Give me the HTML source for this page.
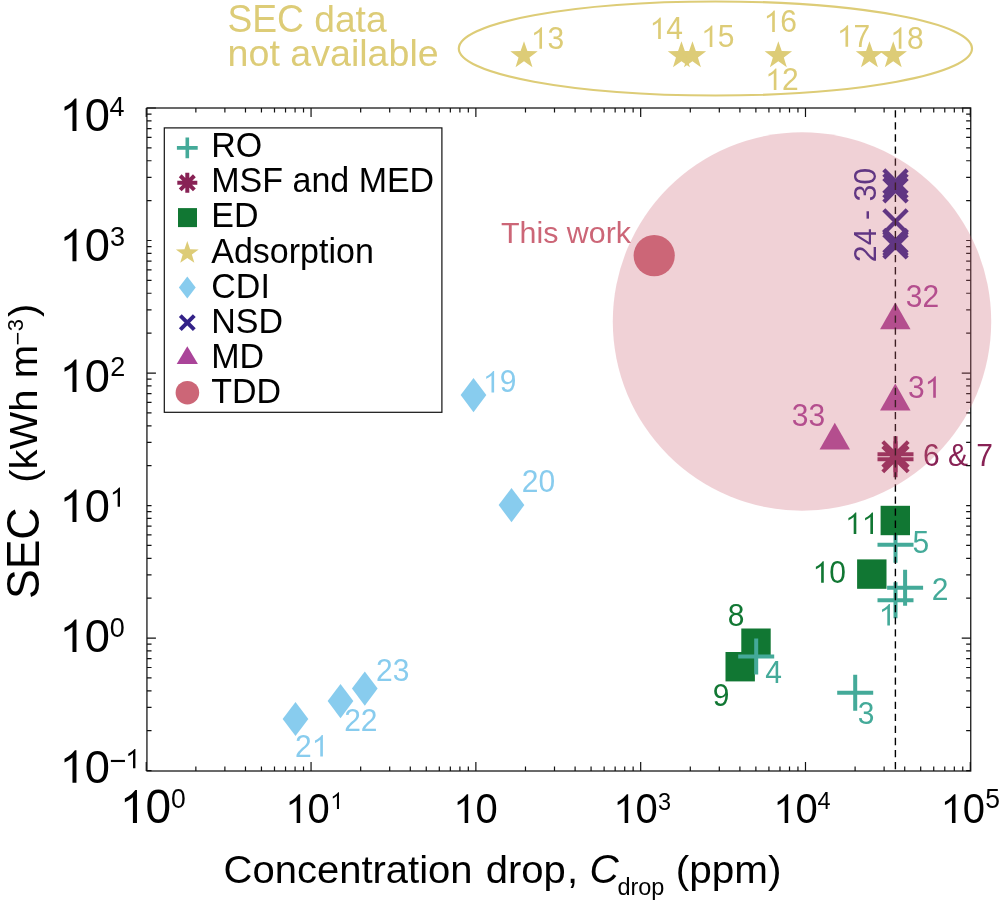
<!DOCTYPE html>
<html><head><meta charset="utf-8"><style>html,body{margin:0;padding:0;background:#fff;}svg{display:block;will-change:transform;}text{font-family:"Liberation Sans",sans-serif;font-kerning:none;}</style></head>
<body><svg width="1000" height="904" viewBox="0 0 1000 904">
<rect width="1000" height="904" fill="#fff"/>
<ellipse cx="715.4" cy="48.5" rx="256.6" ry="47" fill="none" stroke="#DDCC77" stroke-width="2.2"/>
<text transform="translate(227.40,31.70) scale(1,1.04)" font-size="37.2" fill="#DDCC77">SEC</text>
<text transform="translate(314.22,31.70) scale(1,0.97)" font-size="37.2" fill="#DDCC77">data</text>
<text transform="translate(227.60,66.30) scale(1,0.97)" font-size="37.6" fill="#DDCC77">not available</text>
<polygon points="524.00,41.20 527.39,50.94 537.70,51.15 529.48,57.38 532.46,67.25 524.00,61.36 515.54,67.25 518.52,57.38 510.30,51.15 520.61,50.94" fill="#DDCC77"/>
<polygon points="681.45,41.20 684.84,50.94 695.15,51.15 686.93,57.38 689.91,67.25 681.45,61.36 672.99,67.25 675.97,57.38 667.75,51.15 678.06,50.94" fill="#DDCC77"/>
<polygon points="692.45,41.20 695.84,50.94 706.15,51.15 697.93,57.38 700.91,67.25 692.45,61.36 683.99,67.25 686.97,57.38 678.75,51.15 689.06,50.94" fill="#DDCC77"/>
<polygon points="778.35,41.20 781.74,50.94 792.05,51.15 783.83,57.38 786.81,67.25 778.35,61.36 769.89,67.25 772.87,57.38 764.65,51.15 774.96,50.94" fill="#DDCC77"/>
<polygon points="869.45,41.20 872.84,50.94 883.15,51.15 874.93,57.38 877.91,67.25 869.45,61.36 860.99,67.25 863.97,57.38 855.75,51.15 866.06,50.94" fill="#DDCC77"/>
<polygon points="893.25,41.20 896.64,50.94 906.95,51.15 898.73,57.38 901.71,67.25 893.25,61.36 884.79,67.25 887.77,57.38 879.55,51.15 889.86,50.94" fill="#DDCC77"/>
<text transform="translate(530.85,48.80) scale(1,1.04)" font-size="30" fill="#DDCC77"> 3</text>
<path transform="translate(530.85,48.80) scale(0.01465)" d="M763,0L583,0L583,-1147C535,-1101 472,-1055 394,-1009C316,-963 245,-929 223,-917L223,-1091C335,-1144 433,-1207 516,-1280C599,-1353 658,-1424 692,-1466L763,-1466Z" fill="#DDCC77"/>
<text transform="translate(649.61,38.95) scale(1,1.04)" font-size="30" fill="#DDCC77"> 4</text>
<path transform="translate(649.61,38.95) scale(0.01465)" d="M763,0L583,0L583,-1147C535,-1101 472,-1055 394,-1009C316,-963 245,-929 223,-917L223,-1091C335,-1144 433,-1207 516,-1280C599,-1353 658,-1424 692,-1466L763,-1466Z" fill="#DDCC77"/>
<text transform="translate(701.19,46.90) scale(1,1.04)" font-size="30" fill="#DDCC77"> 5</text>
<path transform="translate(701.19,46.90) scale(0.01465)" d="M763,0L583,0L583,-1147C535,-1101 472,-1055 394,-1009C316,-963 245,-929 223,-917L223,-1091C335,-1144 433,-1207 516,-1280C599,-1353 658,-1424 692,-1466L763,-1466Z" fill="#DDCC77"/>
<text transform="translate(763.65,32.00) scale(1,1.04)" font-size="30" fill="#DDCC77"> 6</text>
<path transform="translate(763.65,32.00) scale(0.01465)" d="M763,0L583,0L583,-1147C535,-1101 472,-1055 394,-1009C316,-963 245,-929 223,-917L223,-1091C335,-1144 433,-1207 516,-1280C599,-1353 658,-1424 692,-1466L763,-1466Z" fill="#DDCC77"/>
<text transform="translate(765.24,90.00) scale(1,1.04)" font-size="30" fill="#DDCC77"> 2</text>
<path transform="translate(765.24,90.00) scale(0.01465)" d="M763,0L583,0L583,-1147C535,-1101 472,-1055 394,-1009C316,-963 245,-929 223,-917L223,-1091C335,-1144 433,-1207 516,-1280C599,-1353 658,-1424 692,-1466L763,-1466Z" fill="#DDCC77"/>
<text transform="translate(836.94,46.70) scale(1,1.04)" font-size="30" fill="#DDCC77"> 7</text>
<path transform="translate(836.94,46.70) scale(0.01465)" d="M763,0L583,0L583,-1147C535,-1101 472,-1055 394,-1009C316,-963 245,-929 223,-917L223,-1091C335,-1144 433,-1207 516,-1280C599,-1353 658,-1424 692,-1466L763,-1466Z" fill="#DDCC77"/>
<text transform="translate(890.23,48.70) scale(1,1.04)" font-size="30" fill="#DDCC77"> 8</text>
<path transform="translate(890.23,48.70) scale(0.01465)" d="M763,0L583,0L583,-1147C535,-1101 472,-1055 394,-1009C316,-963 245,-929 223,-917L223,-1091C335,-1144 433,-1207 516,-1280C599,-1353 658,-1424 692,-1466L763,-1466Z" fill="#DDCC77"/>
<polygon points="473.5,378.05 486.35,395.1 473.5,412.15 460.65,395.1" fill="#88CCEE"/>
<polygon points="511.5,488.05 524.35,505.1 511.5,522.15 498.65,505.1" fill="#88CCEE"/>
<polygon points="295.5,701.95 308.35,719.0 295.5,736.05 282.65,719.0" fill="#88CCEE"/>
<polygon points="340.5,684.05 353.35,701.1 340.5,718.15 327.65,701.1" fill="#88CCEE"/>
<polygon points="364.8,671.55 377.65,688.6 364.8,705.65 351.95,688.6" fill="#88CCEE"/>
<text transform="translate(482.95,392.40) scale(1,1.04)" font-size="30" fill="#88CCEE"> 9</text>
<path transform="translate(482.95,392.40) scale(0.01465)" d="M763,0L583,0L583,-1147C535,-1101 472,-1055 394,-1009C316,-963 245,-929 223,-917L223,-1091C335,-1144 433,-1207 516,-1280C599,-1353 658,-1424 692,-1466L763,-1466Z" fill="#88CCEE"/>
<text transform="translate(521.80,492.30) scale(1,1.04)" font-size="30" fill="#88CCEE">20</text>
<text transform="translate(295.04,756.50) scale(1,1.04)" font-size="30" fill="#88CCEE">2 </text>
<path transform="translate(311.72,756.50) scale(0.01465)" d="M763,0L583,0L583,-1147C535,-1101 472,-1055 394,-1009C316,-963 245,-929 223,-917L223,-1091C335,-1144 433,-1207 516,-1280C599,-1353 658,-1424 692,-1466L763,-1466Z" fill="#88CCEE"/>
<text transform="translate(344.14,730.90) scale(1,1.04)" font-size="30" fill="#88CCEE">22</text>
<text transform="translate(376.05,681.00) scale(1,1.04)" font-size="30" fill="#88CCEE">23</text>
<rect x="741.30" y="628.50" width="29.4" height="29.4" fill="#117733"/>
<rect x="725.50" y="652.00" width="29.4" height="29.4" fill="#117733"/>
<path d="M738.20,656.4H774.20M756.2,638.40V674.40" stroke="#44AA99" stroke-width="4" fill="none"/>
<path d="M837.20,692.8H873.20M855.2,674.80V710.80" stroke="#44AA99" stroke-width="4" fill="none"/>
<path d="M877.50,544.8H913.50M895.5,526.80V562.80" stroke="#44AA99" stroke-width="4" fill="none"/>
<path d="M887.10,587.7H923.10M905.1,569.70V605.70" stroke="#44AA99" stroke-width="4" fill="none"/>
<path d="M877.50,600.3H913.50M895.5,582.30V618.30" stroke="#44AA99" stroke-width="4" fill="none"/>
<rect x="880.60" y="505.80" width="29.4" height="29.4" fill="#117733"/>
<rect x="857.10" y="559.40" width="29.4" height="29.4" fill="#117733"/>
<text transform="translate(727.82,625.70) scale(1,1.04)" font-size="30" fill="#117733">8</text>
<text transform="translate(712.84,706.10) scale(1,1.04)" font-size="30" fill="#117733">9</text>
<text transform="translate(812.60,582.70) scale(1,1.04)" font-size="30" fill="#117733"> 0</text>
<path transform="translate(812.60,582.70) scale(0.01465)" d="M763,0L583,0L583,-1147C535,-1101 472,-1055 394,-1009C316,-963 245,-929 223,-917L223,-1091C335,-1144 433,-1207 516,-1280C599,-1353 658,-1424 692,-1466L763,-1466Z" fill="#117733"/>
<text transform="translate(845.14,533.90) scale(1,1.04)" font-size="30" fill="#117733">  </text>
<path transform="translate(845.14,533.90) scale(0.01465)" d="M763,0L583,0L583,-1147C535,-1101 472,-1055 394,-1009C316,-963 245,-929 223,-917L223,-1091C335,-1144 433,-1207 516,-1280C599,-1353 658,-1424 692,-1466L763,-1466Z" fill="#117733"/>
<path transform="translate(861.82,533.90) scale(0.01465)" d="M763,0L583,0L583,-1147C535,-1101 472,-1055 394,-1009C316,-963 245,-929 223,-917L223,-1091C335,-1144 433,-1207 516,-1280C599,-1353 658,-1424 692,-1466L763,-1466Z" fill="#117733"/>
<text transform="translate(765.29,683.35) scale(1,1.04)" font-size="30" fill="#44AA99">4</text>
<text transform="translate(857.78,723.60) scale(1,1.04)" font-size="30" fill="#44AA99">3</text>
<text transform="translate(912.58,553.30) scale(1,1.04)" font-size="30" fill="#44AA99">5</text>
<text transform="translate(931.77,599.95) scale(1,1.04)" font-size="30" fill="#44AA99">2</text>
<text transform="translate(878.77,625.60) scale(1,1.04)" font-size="30" fill="#44AA99"> </text>
<path transform="translate(878.77,625.60) scale(0.01465)" d="M763,0L583,0L583,-1147C535,-1101 472,-1055 394,-1009C316,-963 245,-929 223,-917L223,-1091C335,-1144 433,-1207 516,-1280C599,-1353 658,-1424 692,-1466L763,-1466Z" fill="#44AA99"/>
<polygon points="895.3,302.4 910.55,329.20 880.05,329.20" fill="#AA4499"/>
<polygon points="895.3,383.6 910.55,410.40 880.05,410.40" fill="#AA4499"/>
<polygon points="834.8,422.7 850.05,449.50 819.55,449.50" fill="#AA4499"/>
<text transform="translate(905.74,307.10) scale(1,1.04)" font-size="30" fill="#AA4499">32</text>
<text transform="translate(907.99,397.80) scale(1,1.04)" font-size="30" fill="#AA4499">3 </text>
<path transform="translate(924.67,397.80) scale(0.01465)" d="M763,0L583,0L583,-1147C535,-1101 472,-1055 394,-1009C316,-963 245,-929 223,-917L223,-1091C335,-1144 433,-1207 516,-1280C599,-1353 658,-1424 692,-1466L763,-1466Z" fill="#AA4499"/>
<text transform="translate(791.85,426.10) scale(1,1.04)" font-size="30" fill="#AA4499">33</text>
<path d="M877.50,454.3H913.50M895.5,436.30V472.30M882.77,441.57L908.23,467.03M882.77,467.03L908.23,441.57" stroke="#882255" stroke-width="4" fill="none"/>
<path d="M877.50,459.2H913.50M895.5,441.20V477.20M882.77,446.47L908.23,471.93M882.77,471.93L908.23,446.47" stroke="#882255" stroke-width="4" fill="none"/>
<text transform="translate(923.00,465.80) scale(1,1.04)" font-size="30" fill="#882255">6 &amp; 7</text>
<path d="M883.80,169.80L907.20,193.20M883.80,193.20L907.20,169.80" stroke="#332288" stroke-width="4.3" fill="none"/>
<path d="M883.80,174.30L907.20,197.70M883.80,197.70L907.20,174.30" stroke="#332288" stroke-width="4.3" fill="none"/>
<path d="M883.80,178.50L907.20,201.90M883.80,201.90L907.20,178.50" stroke="#332288" stroke-width="4.3" fill="none"/>
<path d="M883.80,209.80L907.20,233.20M883.80,233.20L907.20,209.80" stroke="#332288" stroke-width="4.3" fill="none"/>
<path d="M883.80,229.30L907.20,252.70M883.80,252.70L907.20,229.30" stroke="#332288" stroke-width="4.3" fill="none"/>
<path d="M883.80,232.00L907.20,255.40M883.80,255.40L907.20,232.00" stroke="#332288" stroke-width="4.3" fill="none"/>
<path d="M883.80,234.70L907.20,258.10M883.80,258.10L907.20,234.70" stroke="#332288" stroke-width="4.3" fill="none"/>
<text transform="translate(876,215.0) rotate(-90) scale(1,1.04)" font-size="30.3" fill="#332288" text-anchor="middle">24 - 30</text>
<circle cx="654.2" cy="255.6" r="20.6" fill="#CC6677"/>
<text transform="translate(501.00,243.10) scale(1,1.0)" font-size="30.4" fill="#CC6677">This work</text>
<line x1="895.4" y1="110.2" x2="895.4" y2="770" stroke="#000" stroke-width="1.4" stroke-dasharray="7.3 4.77"/>
<path d="M195.86,771.0v-4.6M195.86,108.0v4.6M224.88,771.0v-4.6M224.88,108.0v4.6M245.48,771.0v-4.6M245.48,108.0v4.6M261.45,771.0v-4.6M261.45,108.0v4.6M274.50,771.0v-4.6M274.50,108.0v4.6M285.53,771.0v-4.6M285.53,108.0v4.6M295.09,771.0v-4.6M295.09,108.0v4.6M303.52,771.0v-4.6M303.52,108.0v4.6M360.67,771.0v-4.6M360.67,108.0v4.6M389.69,771.0v-4.6M389.69,108.0v4.6M410.29,771.0v-4.6M410.29,108.0v4.6M426.26,771.0v-4.6M426.26,108.0v4.6M439.31,771.0v-4.6M439.31,108.0v4.6M450.34,771.0v-4.6M450.34,108.0v4.6M459.90,771.0v-4.6M459.90,108.0v4.6M468.33,771.0v-4.6M468.33,108.0v4.6M525.48,771.0v-4.6M525.48,108.0v4.6M554.50,771.0v-4.6M554.50,108.0v4.6M575.10,771.0v-4.6M575.10,108.0v4.6M591.07,771.0v-4.6M591.07,108.0v4.6M604.12,771.0v-4.6M604.12,108.0v4.6M615.15,771.0v-4.6M615.15,108.0v4.6M624.71,771.0v-4.6M624.71,108.0v4.6M633.14,771.0v-4.6M633.14,108.0v4.6M690.29,771.0v-4.6M690.29,108.0v4.6M719.31,771.0v-4.6M719.31,108.0v4.6M739.91,771.0v-4.6M739.91,108.0v4.6M755.88,771.0v-4.6M755.88,108.0v4.6M768.93,771.0v-4.6M768.93,108.0v4.6M779.96,771.0v-4.6M779.96,108.0v4.6M789.52,771.0v-4.6M789.52,108.0v4.6M797.95,771.0v-4.6M797.95,108.0v4.6M855.10,771.0v-4.6M855.10,108.0v4.6M884.12,771.0v-4.6M884.12,108.0v4.6M904.72,771.0v-4.6M904.72,108.0v4.6M920.69,771.0v-4.6M920.69,108.0v4.6M933.74,771.0v-4.6M933.74,108.0v4.6M944.77,771.0v-4.6M944.77,108.0v4.6M954.33,771.0v-4.6M954.33,108.0v4.6M962.76,771.0v-4.6M962.76,108.0v4.6M146.25,771.0v-9M146.25,108.0v9M311.06,771.0v-9M311.06,108.0v9M475.87,771.0v-9M475.87,108.0v9M640.68,771.0v-9M640.68,108.0v9M805.49,771.0v-9M805.49,108.0v9M970.30,771.0v-9M970.30,108.0v9M146.94,730.71h4.6M970.75,730.71h-4.6M146.94,707.37h4.6M970.75,707.37h-4.6M146.94,690.82h4.6M970.75,690.82h-4.6M146.94,677.97h4.6M970.75,677.97h-4.6M146.94,667.48h4.6M970.75,667.48h-4.6M146.94,658.61h4.6M970.75,658.61h-4.6M146.94,650.92h4.6M970.75,650.92h-4.6M146.94,644.14h4.6M970.75,644.14h-4.6M146.94,598.19h4.6M970.75,598.19h-4.6M146.94,574.85h4.6M970.75,574.85h-4.6M146.94,558.30h4.6M970.75,558.30h-4.6M146.94,545.45h4.6M970.75,545.45h-4.6M146.94,534.96h4.6M970.75,534.96h-4.6M146.94,526.09h4.6M970.75,526.09h-4.6M146.94,518.40h4.6M970.75,518.40h-4.6M146.94,511.62h4.6M970.75,511.62h-4.6M146.94,465.67h4.6M970.75,465.67h-4.6M146.94,442.33h4.6M970.75,442.33h-4.6M146.94,425.78h4.6M970.75,425.78h-4.6M146.94,412.93h4.6M970.75,412.93h-4.6M146.94,402.44h4.6M970.75,402.44h-4.6M146.94,393.57h4.6M970.75,393.57h-4.6M146.94,385.88h4.6M970.75,385.88h-4.6M146.94,379.10h4.6M970.75,379.10h-4.6M146.94,333.15h4.6M970.75,333.15h-4.6M146.94,309.81h4.6M970.75,309.81h-4.6M146.94,293.26h4.6M970.75,293.26h-4.6M146.94,280.41h4.6M970.75,280.41h-4.6M146.94,269.92h4.6M970.75,269.92h-4.6M146.94,261.05h4.6M970.75,261.05h-4.6M146.94,253.36h4.6M970.75,253.36h-4.6M146.94,246.58h4.6M970.75,246.58h-4.6M146.94,200.63h4.6M970.75,200.63h-4.6M146.94,177.29h4.6M970.75,177.29h-4.6M146.94,160.74h4.6M970.75,160.74h-4.6M146.94,147.89h4.6M970.75,147.89h-4.6M146.94,137.40h4.6M970.75,137.40h-4.6M146.94,128.53h4.6M970.75,128.53h-4.6M146.94,120.84h4.6M970.75,120.84h-4.6M146.94,114.06h4.6M970.75,114.06h-4.6M146.94,770.60h4.6M970.75,770.60h-4.6M146.94,638.08h9M970.75,638.08h-9M146.94,505.56h4.6M970.75,505.56h-4.6M146.94,373.04h9M970.75,373.04h-9M146.94,240.52h4.6M970.75,240.52h-4.6M146.94,108.00h9M970.75,108.00h-9" stroke="#111" stroke-width="1.2" fill="none"/>
<rect x="146.94" y="108.0" width="823.81" height="663.00" fill="none" stroke="#111" stroke-width="1.25"/>
<circle cx="802" cy="321.5" r="189.2" fill="#CC6677" fill-opacity="0.3"/>
<rect x="164.3" y="127.9" width="277.6" height="284.4" fill="none" stroke="#111" stroke-width="1.2"/>
<path d="M176.90,147.9H197.70M187.3,137.50V158.30" stroke="#44AA99" stroke-width="3.6" fill="none"/>
<path d="M177.30,182.8H197.30M187.3,172.80V192.80M180.23,175.73L194.37,189.87M180.23,189.87L194.37,175.73" stroke="#882255" stroke-width="4" fill="none"/>
<rect x="178.00" y="208.10" width="19" height="19" fill="#117733"/>
<polygon points="187.30,241.10 190.12,249.22 198.71,249.39 191.87,254.58 194.35,262.81 187.30,257.90 180.25,262.81 182.73,254.58 175.89,249.39 184.48,249.22" fill="#DDCC77"/>
<polygon points="187.3,276.60 195.70,287.6 187.3,298.60 178.90,287.6" fill="#88CCEE"/>
<path d="M180.30,315.60L194.30,329.60M180.30,329.60L194.30,315.60" stroke="#332288" stroke-width="4" fill="none"/>
<polygon points="187.3,346.2 197.90,363.90 176.70,363.90" fill="#AA4499"/>
<circle cx="187.4" cy="392.7" r="11.8" fill="#CC6677"/>
<text transform="translate(211.30,157.00) scale(1,1.04)" font-size="34" fill="#000">RO</text>
<text transform="translate(211.30,192.20) scale(1,1.04)" font-size="34" fill="#000">MSF and MED</text>
<text transform="translate(211.30,227.40) scale(1,1.04)" font-size="34" fill="#000">ED</text>
<text transform="translate(211.30,262.60) scale(1,1.04)" font-size="34" fill="#000">Adsorption</text>
<text transform="translate(211.30,297.80) scale(1,1.04)" font-size="34" fill="#000">CDI</text>
<text transform="translate(211.30,333.00) scale(1,1.04)" font-size="34" fill="#000">NSD</text>
<text transform="translate(211.30,368.20) scale(1,1.04)" font-size="34" fill="#000">MD</text>
<text transform="translate(211.30,403.40) scale(1,1.04)" font-size="34" fill="#000">TDD</text>
<text transform="translate(59.58,131.00) scale(1,1.04)" font-size="45.3" fill="#000"> 0</text>
<path transform="translate(59.58,131.00) scale(0.02212)" d="M763,0L583,0L583,-1147C535,-1101 472,-1055 394,-1009C316,-963 245,-929 223,-917L223,-1091C335,-1144 433,-1207 516,-1280C599,-1353 658,-1424 692,-1466L763,-1466Z" fill="#000"/>
<text transform="translate(109.57,116.20) scale(1,1.04)" font-size="27" fill="#000">4</text>
<text transform="translate(59.58,261.20) scale(1,1.04)" font-size="45.3" fill="#000"> 0</text>
<path transform="translate(59.58,261.20) scale(0.02212)" d="M763,0L583,0L583,-1147C535,-1101 472,-1055 394,-1009C316,-963 245,-929 223,-917L223,-1091C335,-1144 433,-1207 516,-1280C599,-1353 658,-1424 692,-1466L763,-1466Z" fill="#000"/>
<text transform="translate(109.97,245.80) scale(1,1.04)" font-size="27" fill="#000">3</text>
<text transform="translate(59.58,392.00) scale(1,1.04)" font-size="45.3" fill="#000"> 0</text>
<path transform="translate(59.58,392.00) scale(0.02212)" d="M763,0L583,0L583,-1147C535,-1101 472,-1055 394,-1009C316,-963 245,-929 223,-917L223,-1091C335,-1144 433,-1207 516,-1280C599,-1353 658,-1424 692,-1466L763,-1466Z" fill="#000"/>
<text transform="translate(110.14,375.80) scale(1,1.04)" font-size="27" fill="#000">2</text>
<text transform="translate(59.58,522.00) scale(1,1.04)" font-size="45.3" fill="#000"> 0</text>
<path transform="translate(59.58,522.00) scale(0.02212)" d="M763,0L583,0L583,-1147C535,-1101 472,-1055 394,-1009C316,-963 245,-929 223,-917L223,-1091C335,-1144 433,-1207 516,-1280C599,-1353 658,-1424 692,-1466L763,-1466Z" fill="#000"/>
<text transform="translate(109.94,506.80) scale(1,1.04)" font-size="27" fill="#000"> </text>
<path transform="translate(109.94,506.80) scale(0.01318)" d="M763,0L583,0L583,-1147C535,-1101 472,-1055 394,-1009C316,-963 245,-929 223,-917L223,-1091C335,-1144 433,-1207 516,-1280C599,-1353 658,-1424 692,-1466L763,-1466Z" fill="#000"/>
<text transform="translate(59.58,652.00) scale(1,1.04)" font-size="45.3" fill="#000"> 0</text>
<path transform="translate(59.58,652.00) scale(0.02212)" d="M763,0L583,0L583,-1147C535,-1101 472,-1055 394,-1009C316,-963 245,-929 223,-917L223,-1091C335,-1144 433,-1207 516,-1280C599,-1353 658,-1424 692,-1466L763,-1466Z" fill="#000"/>
<text transform="translate(109.84,637.00) scale(1,1.04)" font-size="27" fill="#000">0</text>
<text transform="translate(59.58,782.80) scale(1,1.04)" font-size="45.3" fill="#000"> 0</text>
<path transform="translate(59.58,782.80) scale(0.02212)" d="M763,0L583,0L583,-1147C535,-1101 472,-1055 394,-1009C316,-963 245,-929 223,-917L223,-1091C335,-1144 433,-1207 516,-1280C599,-1353 658,-1424 692,-1466L763,-1466Z" fill="#000"/>
<text transform="translate(109.38,771.20) scale(1,1.04)" font-size="29" fill="#000">−</text>
<text transform="translate(125.34,768.20) scale(1,1.04)" font-size="27" fill="#000"> </text>
<path transform="translate(125.34,768.20) scale(0.01318)" d="M763,0L583,0L583,-1147C535,-1101 472,-1055 394,-1009C316,-963 245,-929 223,-917L223,-1091C335,-1144 433,-1207 516,-1280C599,-1353 658,-1424 692,-1466L763,-1466Z" fill="#000"/>
<text transform="translate(119.83,823.00) scale(1,1.04)" font-size="46" fill="#000"> 0</text>
<path transform="translate(119.83,823.00) scale(0.02246)" d="M763,0L583,0L583,-1147C535,-1101 472,-1055 394,-1009C316,-963 245,-929 223,-917L223,-1091C335,-1144 433,-1207 516,-1280C599,-1353 658,-1424 692,-1466L763,-1466Z" fill="#000"/>
<text transform="translate(171.10,808.00) scale(1,1.04)" font-size="26.5" fill="#000">0</text>
<text transform="translate(285.27,823.00) scale(1,1.04)" font-size="40" fill="#000"> 0</text>
<path transform="translate(285.27,823.00) scale(0.01953)" d="M763,0L583,0L583,-1147C535,-1101 472,-1055 394,-1009C316,-963 245,-929 223,-917L223,-1091C335,-1144 433,-1207 516,-1280C599,-1353 658,-1424 692,-1466L763,-1466Z" fill="#000"/>
<text transform="translate(330.24,809.00) scale(1,1.04)" font-size="23.5" fill="#000"> </text>
<path transform="translate(330.24,809.00) scale(0.01147)" d="M763,0L583,0L583,-1147C535,-1101 472,-1055 394,-1009C316,-963 245,-929 223,-917L223,-1091C335,-1144 433,-1207 516,-1280C599,-1353 658,-1424 692,-1466L763,-1466Z" fill="#000"/>
<text transform="translate(453.27,823.00) scale(1,1.04)" font-size="40" fill="#000"> 0</text>
<path transform="translate(453.27,823.00) scale(0.01953)" d="M763,0L583,0L583,-1147C535,-1101 472,-1055 394,-1009C316,-963 245,-929 223,-917L223,-1091C335,-1144 433,-1207 516,-1280C599,-1353 658,-1424 692,-1466L763,-1466Z" fill="#000"/>
<text transform="translate(613.27,823.00) scale(1,1.04)" font-size="40" fill="#000"> 0</text>
<path transform="translate(613.27,823.00) scale(0.01953)" d="M763,0L583,0L583,-1147C535,-1101 472,-1055 394,-1009C316,-963 245,-929 223,-917L223,-1091C335,-1144 433,-1207 516,-1280C599,-1353 658,-1424 692,-1466L763,-1466Z" fill="#000"/>
<text transform="translate(657.96,809.50) scale(1,1.04)" font-size="23.5" fill="#000">3</text>
<text transform="translate(773.27,823.00) scale(1,1.04)" font-size="40" fill="#000"> 0</text>
<path transform="translate(773.27,823.00) scale(0.01953)" d="M763,0L583,0L583,-1147C535,-1101 472,-1055 394,-1009C316,-963 245,-929 223,-917L223,-1091C335,-1144 433,-1207 516,-1280C599,-1353 658,-1424 692,-1466L763,-1466Z" fill="#000"/>
<text transform="translate(817.62,809.00) scale(1,1.04)" font-size="23.5" fill="#000">4</text>
<text transform="translate(940.57,823.00) scale(1,1.04)" font-size="40" fill="#000"> 0</text>
<path transform="translate(940.57,823.00) scale(0.01953)" d="M763,0L583,0L583,-1147C535,-1101 472,-1055 394,-1009C316,-963 245,-929 223,-917L223,-1091C335,-1144 433,-1207 516,-1280C599,-1353 658,-1424 692,-1466L763,-1466Z" fill="#000"/>
<text transform="translate(985.37,808.00) scale(1,1.04)" font-size="26.5" fill="#000">5</text>
<text transform="translate(223.60,882.80) scale(1,0.98)" font-size="40" fill="#000">Concentration</text>
<text transform="translate(485.70,882.80) scale(1,0.98)" font-size="40" fill="#000">drop</text>
<text transform="translate(567.10,882.80) scale(1,0.98)" font-size="40" fill="#000">,</text>
<text transform="translate(589.60,883.20) scale(1,1.02)" font-size="40.5" fill="#000" font-style="italic">C</text>
<text transform="translate(617.40,895.00) scale(1,1.0)" font-size="23.5" fill="#000">drop</text>
<text transform="translate(675.70,882.80) scale(1,0.98)" font-size="40.5" fill="#000">(ppm)</text>
<text transform="translate(38.7,599) rotate(-90) scale(1,1.02)" font-size="44.5">SEC</text>
<text transform="translate(36.6,482.7) rotate(-90) scale(1,0.95)" font-size="40">(kWh m</text>
<text transform="translate(25.1,345.5) rotate(-90) scale(1,0.95)" font-size="23.5">&#8722;</text>
<text transform="translate(23.1,331.3) rotate(-90)" font-size="22">3</text>
<text transform="translate(36.4,317.1) rotate(-90) scale(1,0.95)" font-size="40">)</text>
</svg></body></html>
